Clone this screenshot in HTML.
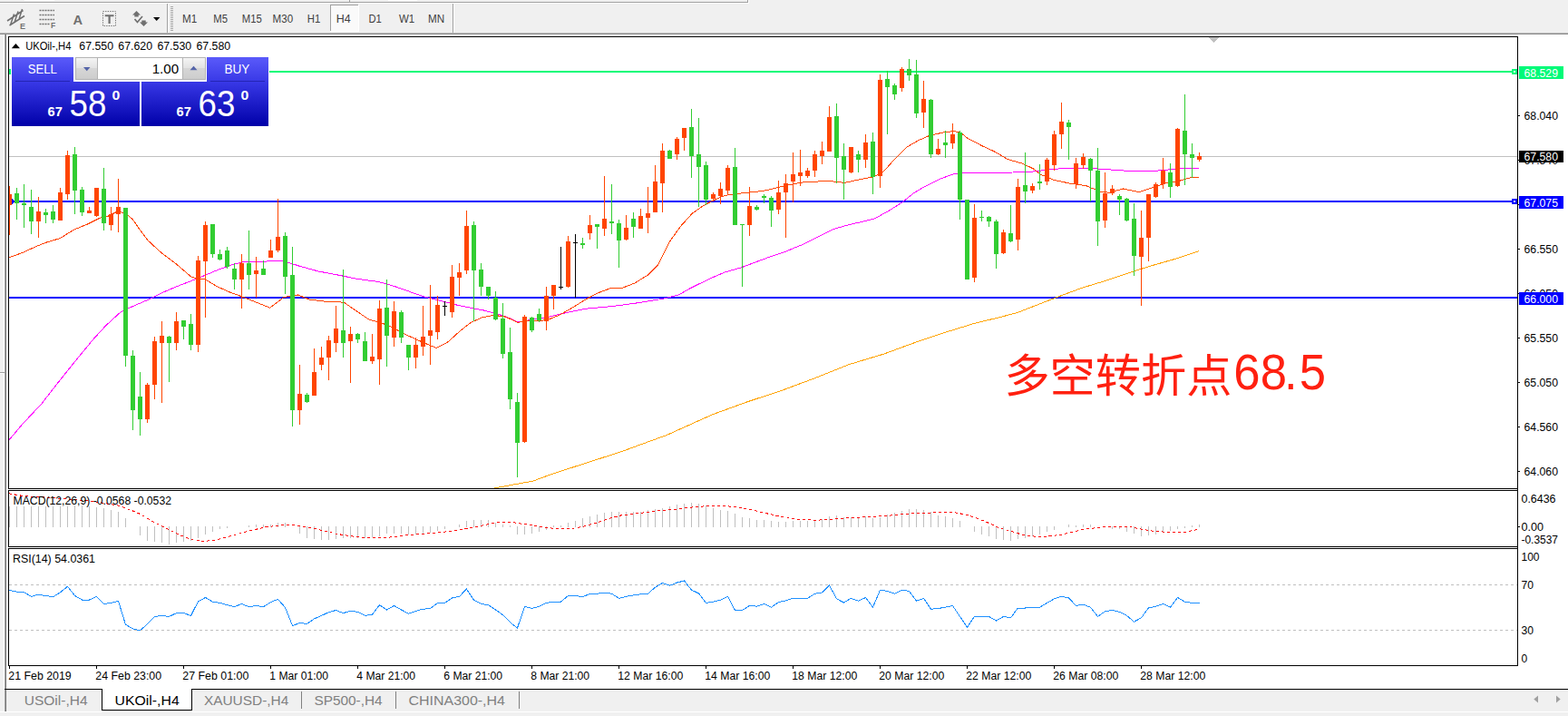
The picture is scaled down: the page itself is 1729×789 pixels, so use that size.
<!DOCTYPE html>
<html><head><meta charset="utf-8"><title>UKOil-,H4</title>
<style>
html,body{margin:0;padding:0;background:#fff}
body{width:1729px;height:789px;overflow:hidden;position:relative}
svg{position:absolute;left:0;top:0;display:block}
text{font-family:"Liberation Sans",sans-serif;white-space:pre}
</style></head><body>
<svg width="1729" height="789" viewBox="0 0 1729 789">
<rect x="0" y="0" width="1729" height="789" fill="#fff"/>
<g shape-rendering="crispEdges">
<rect x="0" y="0" width="1729" height="36" fill="#f0f0f0"/>
<rect x="0" y="2" width="825" height="1" fill="#a0a0a0"/>
<rect x="0" y="3" width="826" height="1" fill="#fff"/>
<rect x="824" y="0" width="1" height="3" fill="#a0a0a0"/>
<rect x="825" y="0" width="1" height="4" fill="#fff"/>
<rect x="27" y="0" width="33" height="1" fill="#fff"/>
<rect x="385" y="0" width="1" height="2" fill="#a0a0a0"/>
<rect x="428" y="0" width="32" height="1" fill="#fff"/>
<rect x="0" y="36" width="1729" height="1" fill="#b8b8b8"/>
<rect x="0" y="37" width="1729" height="1" fill="#8c8c8c"/>
<rect x="0" y="38" width="4" height="746" fill="#f0f0f0"/>
<rect x="5" y="38" width="1" height="746" fill="#a0a0a0"/>
<rect x="6" y="38" width="1" height="746" fill="#787878"/>
<rect x="0" y="410" width="5" height="1" fill="#a0a0a0"/>
<rect x="0" y="411" width="5" height="1" fill="#fff"/>
<rect x="184" y="4" width="1" height="32" fill="#a0a0a0"/>
<rect x="185" y="4" width="1" height="32" fill="#fff"/>
<rect x="499" y="4" width="1" height="32" fill="#a0a0a0"/>
<rect x="500" y="4" width="1" height="32" fill="#fff"/>
<rect x="188" y="7" width="3" height="1" fill="#a8a8a8"/>
<rect x="188" y="9" width="3" height="1" fill="#a8a8a8"/>
<rect x="188" y="11" width="3" height="1" fill="#a8a8a8"/>
<rect x="188" y="13" width="3" height="1" fill="#a8a8a8"/>
<rect x="188" y="15" width="3" height="1" fill="#a8a8a8"/>
<rect x="188" y="17" width="3" height="1" fill="#a8a8a8"/>
<rect x="188" y="19" width="3" height="1" fill="#a8a8a8"/>
<rect x="188" y="21" width="3" height="1" fill="#a8a8a8"/>
<rect x="188" y="23" width="3" height="1" fill="#a8a8a8"/>
<rect x="188" y="25" width="3" height="1" fill="#a8a8a8"/>
<rect x="188" y="27" width="3" height="1" fill="#a8a8a8"/>
<rect x="188" y="29" width="3" height="1" fill="#a8a8a8"/>
<rect x="188" y="31" width="3" height="1" fill="#a8a8a8"/>
<rect x="188" y="33" width="3" height="1" fill="#a8a8a8"/>
<rect x="364" y="5" width="32" height="30" fill="#fafafa"/>
<rect x="364" y="5" width="32" height="1" fill="#a0a0a0"/>
<rect x="364" y="5" width="1" height="30" fill="#a0a0a0"/>
<rect x="395" y="5" width="1" height="30" fill="#fff"/>
<rect x="364" y="34" width="32" height="1" fill="#fff"/>
<rect x="0" y="760" width="1729" height="24" fill="#f0f0f0"/>
<rect x="5" y="759" width="1724" height="1" fill="#000"/>
<rect x="0" y="784" width="1729" height="1" fill="#fff"/>
<rect x="0" y="785" width="1729" height="4" fill="#f0f0f0"/>
<rect x="5" y="760" width="1" height="24" fill="#a0a0a0"/>
<rect x="6" y="760" width="1" height="24" fill="#787878"/>
<rect x="112" y="759" width="100" height="24" fill="#000"/>
<rect x="113" y="759" width="98" height="23" fill="#fff"/>
<rect x="332" y="762" width="1" height="19" fill="#808080"/>
<rect x="436" y="762" width="1" height="19" fill="#808080"/>
<rect x="572" y="762" width="1" height="19" fill="#808080"/>
</g>
<path d="M1696 766.5v8l-4.7-4z" fill="#a0a0a0"/><path d="M1716 766.5v8l4.7-4z" fill="#a0a0a0"/>
<text x="201" y="25.2" font-size="12" fill="#404040" textLength="16.2" lengthAdjust="spacingAndGlyphs">M1</text>
<text x="235.3" y="25.2" font-size="12" fill="#404040" textLength="15.7" lengthAdjust="spacingAndGlyphs">M5</text>
<text x="266.8" y="25.2" font-size="12" fill="#404040" textLength="22" lengthAdjust="spacingAndGlyphs">M15</text>
<text x="300.6" y="25.2" font-size="12" fill="#404040" textLength="22.5" lengthAdjust="spacingAndGlyphs">M30</text>
<text x="338.8" y="25.2" font-size="12" fill="#404040" textLength="14.5" lengthAdjust="spacingAndGlyphs">H1</text>
<text x="370.8" y="25.2" font-size="12" fill="#404040" textLength="15.9" lengthAdjust="spacingAndGlyphs">H4</text>
<text x="406.5" y="25.2" font-size="12" fill="#404040" textLength="14.3" lengthAdjust="spacingAndGlyphs">D1</text>
<text x="439.9" y="25.2" font-size="12" fill="#404040" textLength="17.2" lengthAdjust="spacingAndGlyphs">W1</text>
<text x="472" y="25.2" font-size="12" fill="#404040" textLength="18.1" lengthAdjust="spacingAndGlyphs">MN</text>
<text x="26.8" y="777" font-size="14.5" fill="#808080" textLength="69.7" lengthAdjust="spacingAndGlyphs">USOil-,H4</text>
<text x="126.6" y="777" font-size="14.5" fill="#000" textLength="71.1" lengthAdjust="spacingAndGlyphs">UKOil-,H4</text>
<text x="224.9" y="777" font-size="14.5" fill="#808080" textLength="93.4" lengthAdjust="spacingAndGlyphs">XAUUSD-,H4</text>
<text x="346.4" y="777" font-size="14.5" fill="#808080" textLength="75.2" lengthAdjust="spacingAndGlyphs">SP500-,H4</text>
<text x="450.5" y="777" font-size="14.5" fill="#808080" textLength="106.4" lengthAdjust="spacingAndGlyphs">CHINA300-,H4</text>
<g stroke="#707070" stroke-width="1.5" fill="none"><path d="M8 23L25.5 11.5M10.5 28L27 17.5M15.5 15.5L11.5 27.5M20 12.5L16 24.5M24.5 10L21 21"/></g>
<text x="22" y="31.8" font-size="9" fill="#707070" font-weight="bold">E</text>
<path d="M43.5 11.5H60M43.5 16.5H60M43.5 21.5H60M43.5 26.5H55" stroke="#707070" stroke-width="1.4" stroke-dasharray="2 1" fill="none"/>
<text x="56" y="31.3" font-size="8.5" fill="#707070" font-weight="bold">F</text>
<text x="80.6" y="26.6" font-size="15.5" fill="#707070" textLength="10.6" lengthAdjust="spacingAndGlyphs" font-weight="bold">A</text>
<rect x="113.5" y="12.5" width="14" height="16" fill="none" stroke="#707070" stroke-width="1" stroke-dasharray="1.3 1.3"/>
<path d="M115.7 16.2h9.8v2h-3.8v7.8h-2.2v-7.8h-3.8z" fill="#707070"/>
<path d="M150.5 12l4.5 4.5h-2.3v2h-4.4v-2h-2.3zM158.5 29l-4.5-4.5h2.3v-2h4.4v2h2.3z" fill="#707070"/><path d="M148.5 21l3 3.5 5.5-6.5" stroke="#707070" stroke-width="1.7" fill="none"/>
<path d="M169 19h7.4l-3.7 4z" fill="#000"/>
<g shape-rendering="crispEdges">
<rect x="9" y="40" width="1665" height="1" fill="#000"/>
<rect x="9" y="538" width="1665" height="1" fill="#000"/>
<rect x="9" y="40" width="1" height="499" fill="#000"/>
<rect x="1673" y="40" width="1" height="499" fill="#000"/>
<rect x="9" y="540" width="1665" height="1" fill="#000"/>
<rect x="9" y="602" width="1665" height="1" fill="#000"/>
<rect x="9" y="540" width="1" height="63" fill="#000"/>
<rect x="1673" y="540" width="1" height="63" fill="#000"/>
<rect x="9" y="604" width="1665" height="1" fill="#000"/>
<rect x="9" y="733" width="1665" height="1" fill="#000"/>
<rect x="9" y="604" width="1" height="130" fill="#000"/>
<rect x="1673" y="604" width="1" height="130" fill="#000"/>
<rect x="1673" y="538" width="1" height="66" fill="#000"/>
<rect x="10" y="172" width="1663" height="1" fill="#c0c0c0"/>
<path d="M10 644.5H1673M10 694.5H1673" stroke="#c0c0c0" stroke-width="1" stroke-dasharray="3 3" fill="none"/>
<path d="M18.5 558V581M26.5 558V581M34.5 558V581M42.5 558V581M50.5 558V581M58.5 558V581M66.5 558V581M74.5 558V581M82.5 557V581M90.5 557V581M98.5 558V581M106.5 559V581M114.5 560V581M122.5 562V581M130.5 564V581M138.5 571V581M154.5 580V590M162.5 580V596M170.5 580V597M178.5 580V598M186.5 580V600M194.5 580V598M202.5 580V597M210.5 580V596M218.5 580V593M226.5 580V589M234.5 580V586M242.5 580V583M250.5 580V582M274.5 579V581M282.5 578V581M290.5 578V581M298.5 578V581M306.5 576V581M314.5 576V581M330.5 580V588M338.5 580V593M346.5 580V594M354.5 580V595M362.5 580V595M370.5 580V594M378.5 580V593M386.5 580V593M394.5 580V593M402.5 580V593M410.5 580V592M418.5 580V591M426.5 580V588M434.5 580V588M442.5 580V588M450.5 580V589M458.5 580V589M466.5 580V588M474.5 580V587M482.5 580V585M490.5 580V583M506.5 578V581M514.5 574V581M522.5 573V581M530.5 573V581M538.5 573V581M546.5 576V581M554.5 578V581M562.5 579V581M570.5 580V589M578.5 580V589M586.5 580V588M594.5 580V586M602.5 580V584M610.5 579V581M618.5 579V581M626.5 576V581M634.5 574V581M642.5 571V581M650.5 569V581M658.5 567V581M666.5 565V581M674.5 564V581M682.5 564V581M690.5 564V581M698.5 564V581M706.5 564V581M714.5 562V581M722.5 561V581M730.5 560V581M738.5 558V581M746.5 556V581M754.5 555V581M762.5 554V581M770.5 555V581M778.5 557V581M786.5 560V581M794.5 562V581M802.5 563V581M810.5 566V581M818.5 570V581M826.5 571V581M834.5 573V581M842.5 573V581M850.5 574V581M858.5 575V581M866.5 575V581M874.5 574V581M882.5 574V581M890.5 574V581M898.5 573V581M906.5 572V581M914.5 569V581M922.5 568V581M930.5 570V581M938.5 570V581M946.5 570V581M954.5 569V581M962.5 571V581M970.5 570V581M978.5 567V581M986.5 565V581M994.5 563V581M1002.5 561V581M1010.5 561V581M1018.5 562V581M1026.5 564V581M1034.5 568V581M1042.5 569V581M1050.5 571V581M1058.5 574V581M1074.5 580V586M1082.5 580V589M1090.5 580V591M1098.5 580V594M1106.5 580V595M1114.5 580V596M1122.5 580V594M1130.5 580V593M1138.5 580V591M1146.5 580V589M1154.5 580V586M1162.5 580V584M1178.5 578V581M1186.5 579V581M1194.5 578V581M1202.5 578V581M1226.5 580V583M1234.5 580V583M1242.5 580V586M1250.5 580V588M1258.5 580V591M1266.5 580V590M1274.5 580V589M1282.5 580V586M1290.5 580V585M1298.5 580V583M1306.5 580V582M1314.5 579V581M1322.5 578V581M10.5 558V581" stroke="#c0c0c0" stroke-width="1" fill="none"/>
</g>
<g shape-rendering="crispEdges">
<rect x="10" y="78" width="1663" height="2" fill="#00fa78"/>
<rect x="10" y="221" width="1663" height="2" fill="#0000ff"/>
<rect x="10" y="327" width="1663" height="2" fill="#0000ff"/>
<rect x="10" y="76" width="2" height="6" fill="#00fa78"/>
<rect x="1667" y="76" width="6" height="6" fill="#00fa78"/>
<rect x="1669" y="78" width="2" height="2" fill="#fff"/>
<path d="M10 219h4l1.5 3l-1.5 3h-4z" fill="#0000ff"/>
<rect x="1667" y="219" width="6" height="6" fill="#0000ff"/>
<rect x="1669" y="221" width="2" height="2" fill="#fff"/>
<path d="M1333 41h11l-5.5 6z" fill="#c0c0c0"/>
<rect x="1674" y="127" width="2" height="1" fill="#000"/>
<rect x="1674" y="176" width="2" height="1" fill="#000"/>
<rect x="1674" y="225" width="2" height="1" fill="#000"/>
<rect x="1674" y="274" width="2" height="1" fill="#000"/>
<rect x="1674" y="323" width="2" height="1" fill="#000"/>
<rect x="1674" y="372" width="2" height="1" fill="#000"/>
<rect x="1674" y="421" width="2" height="1" fill="#000"/>
<rect x="1674" y="470" width="2" height="1" fill="#000"/>
<rect x="1674" y="519" width="2" height="1" fill="#000"/>
<rect x="1674" y="580" width="2" height="1" fill="#000"/>
<text x="1680.5" y="181" font-size="12" fill="#000" textLength="37.5" lengthAdjust="spacingAndGlyphs">67.540</text>
<text x="1680.5" y="328" font-size="12" fill="#000" textLength="37.5" lengthAdjust="spacingAndGlyphs">66.050</text>
<rect x="1675" y="73" width="49" height="14" fill="#00fa78"/>
<rect x="1675" y="166" width="49" height="13" fill="#000"/>
<rect x="1675" y="216" width="49" height="14" fill="#0000ff"/>
<rect x="1675" y="322" width="49" height="14" fill="#0000ff"/>
<rect x="10" y="734" width="1" height="3" fill="#000"/>
<rect x="106" y="734" width="1" height="3" fill="#000"/>
<rect x="202" y="734" width="1" height="3" fill="#000"/>
<rect x="298" y="734" width="1" height="3" fill="#000"/>
<rect x="394" y="734" width="1" height="3" fill="#000"/>
<rect x="490" y="734" width="1" height="3" fill="#000"/>
<rect x="586" y="734" width="1" height="3" fill="#000"/>
<rect x="682" y="734" width="1" height="3" fill="#000"/>
<rect x="778" y="734" width="1" height="3" fill="#000"/>
<rect x="874" y="734" width="1" height="3" fill="#000"/>
<rect x="970" y="734" width="1" height="3" fill="#000"/>
<rect x="1066" y="734" width="1" height="3" fill="#000"/>
<rect x="1162" y="734" width="1" height="3" fill="#000"/>
<rect x="1258" y="734" width="1" height="3" fill="#000"/>
</g>
<polyline points="545.0,538.0 588.0,530.0 608.0,522.6 646.3,510.2 684.5,497.9 735.3,479.4 786.3,456.5 824.4,442.7 862.0,430.3 898.2,416.8 936.3,401.6 974.5,390.1 1012.7,376.1 1043.2,366.0 1076.3,355.8 1101.0,350.0 1122.1,344.4 1166.0,327.3 1192.7,317.4 1217.0,310.0 1248.7,299.4 1269.0,293.0 1297.0,285.0 1322.0,276.7" fill="none" stroke="#ffa500" stroke-width="1" shape-rendering="crispEdges"/>
<polyline points="10.2,484.5 25.4,466.7 45.8,445.0 63.6,422.1 84.0,396.7 101.8,375.1 117.0,358.5 132.3,344.5 145.0,338.2 162.8,330.5 178.1,322.9 195.9,315.3 216.3,307.5 239.2,297.8 254.5,292.2 269.7,288.3 292.6,288.1 309.2,287.1 320.6,290.1 330.8,293.4 351.1,299.0 371.5,302.8 394.4,307.4 417.3,310.5 435.0,315.5 465.6,326.3 506.3,336.7 534.0,342.1 557.2,348.6 571.2,354.9 582.7,352.9 603.0,349.8 623.4,344.8 646.3,340.2 674.3,337.6 699.7,334.3 730.3,329.4 748.1,325.1 760.8,317.9 781.1,307.8 799.0,300.1 816.8,295.0 837.1,287.4 852.4,281.8 866.0,277.3 885.4,269.3 918.5,252.7 936.3,247.6 949.0,244.7 964.3,240.9 979.5,232.7 994.8,223.0 1007.5,212.8 1020.3,205.2 1035.5,197.6 1050.8,192.0 1061.0,190.6 1076.2,190.7 1096.6,191.0 1116.6,190.0 1139.5,189.0 1162.1,186.3 1182.5,185.1 1205.4,185.6 1230.8,187.4 1251.2,188.9 1269.0,188.7 1289.4,186.9 1304.6,185.6 1322.0,185.1" fill="none" stroke="#ff00ff" stroke-width="1" shape-rendering="crispEdges"/>
<polyline points="10.2,283.8 25.4,278.2 38.2,272.3 50.9,267.2 66.2,262.6 81.4,253.2 96.7,246.9 109.4,240.5 119.6,238.0 129.8,232.9 138.7,235.4 146.3,241.8 155.2,254.5 162.8,264.7 178.1,278.7 193.4,290.1 211.2,305.4 218.8,307.2 226.5,307.9 239.2,315.6 254.5,322.4 267.2,327.0 279.9,332.1 297.7,339.2 313.0,327.5 328.2,324.9 341.0,330.0 361.3,332.6 379.1,333.1 391.9,342.0 407.1,352.2 419.8,355.5 432.0,360.5 445.3,367.7 463.1,375.8 480.9,383.4 493.6,377.1 506.3,365.6 519.1,355.4 531.8,349.8 544.5,347.3 557.2,349.1 571.2,355.4 582.7,353.4 603.0,352.9 618.3,346.5 633.6,337.6 646.3,329.7 659.0,323.0 674.3,317.2 684.5,317.9 699.7,312.1 715.0,302.7 725.2,292.5 737.9,267.0 750.6,249.2 763.3,235.2 776.1,226.3 786.3,221.0 799.0,215.4 811.7,213.6 827.0,212.0 842.2,210.3 867.6,204.2 885.4,200.9 913.4,199.4 931.2,201.4 949.0,197.6 964.3,194.5 974.5,188.7 987.2,174.7 999.9,162.0 1012.6,154.8 1025.3,149.2 1040.6,145.9 1050.8,144.7 1058.4,145.4 1067.0,152.5 1083.9,161.2 1096.6,167.0 1111.5,175.7 1128.0,180.4 1139.8,186.1 1146.9,192.0 1162.1,198.3 1179.9,202.2 1197.8,204.7 1213.0,211.1 1223.2,212.3 1238.5,208.0 1256.3,211.6 1271.6,206.5 1284.3,202.2 1299.5,199.6 1312.3,195.8 1322.0,195.3" fill="none" stroke="#ff4500" stroke-width="1" shape-rendering="crispEdges"/>
<polyline points="10.0,543.9 25.4,546.5 63.6,549.0 101.8,552.3 132.3,557.4 152.7,565.5 167.9,574.4 183.2,582.0 198.5,589.7 211.2,594.8 223.9,596.6 239.2,594.8 254.5,590.5 274.8,585.1 292.6,580.8 310.4,578.8 325.7,578.8 338.4,580.8 356.2,584.6 371.5,588.4 391.9,591.5 412.2,593.0 427.5,592.3 440.0,590.7 455.4,589.2 480.9,587.2 506.3,584.1 526.7,580.3 544.5,576.2 562.3,575.2 582.7,578.3 603.0,581.6 618.3,582.8 633.6,582.0 646.3,579.5 659.0,575.7 671.7,571.4 684.5,568.0 704.8,565.5 725.2,563.0 745.5,561.2 760.8,559.2 776.1,557.9 791.3,557.4 811.7,558.4 827.0,561.2 842.2,565.0 857.5,568.6 868.0,570.0 880.4,572.4 900.7,573.2 916.0,572.4 936.3,570.6 961.8,569.4 982.1,568.0 997.4,566.3 1012.7,565.5 1033.0,564.8 1053.4,564.8 1063.6,566.8 1076.3,570.6 1089.0,575.7 1101.7,582.0 1114.5,585.1 1127.2,589.2 1139.9,591.0 1155.2,591.0 1170.4,589.2 1183.2,585.9 1195.9,583.3 1211.1,581.3 1226.4,580.3 1244.2,580.3 1257.0,582.8 1272.2,585.4 1287.5,586.4 1308.0,586.4 1315.0,584.5 1322.0,583.3" fill="none" stroke="#ff0000" stroke-width="1" stroke-dasharray="3 3" shape-rendering="crispEdges"/>
<polyline points="10.5,650.4 18.5,652.2 26.5,652.7 34.5,657.3 42.5,655.2 50.5,656.5 58.5,657.8 66.5,652.7 74.5,646.3 82.5,656.5 90.5,661.0 98.5,661.0 106.5,657.3 114.5,665.4 122.5,664.4 130.5,662.3 138.5,688.3 146.5,692.9 154.5,694.7 162.5,687.8 170.5,679.4 178.5,678.4 186.5,679.4 194.5,675.6 202.5,675.6 210.5,678.4 218.5,662.8 226.5,658.5 234.5,663.1 242.5,664.4 250.5,666.7 258.5,668.7 266.5,665.4 274.5,668.7 282.5,667.4 290.5,668.7 298.5,663.6 306.5,660.3 314.5,669.5 322.5,689.6 330.5,686.5 338.5,687.5 346.5,681.9 354.5,678.4 362.5,674.6 370.5,672.5 378.5,675.6 386.5,673.3 394.5,674.3 402.5,678.4 410.5,677.1 418.5,666.7 426.5,672.0 434.5,667.4 442.5,672.0 450.5,676.3 458.5,673.3 466.5,671.2 474.5,670.5 482.5,664.4 490.5,664.4 498.5,659.0 506.5,657.3 514.5,649.1 522.5,661.1 530.5,665.4 538.5,666.7 546.5,672.0 554.5,677.6 562.5,685.8 570.5,692.1 578.5,668.2 586.5,670.5 594.5,668.2 602.5,664.4 610.5,663.1 618.5,663.1 626.5,656.5 634.5,656.5 642.5,657.8 650.5,654.2 658.5,654.2 666.5,653.4 674.5,654.2 682.5,659.3 690.5,657.3 698.5,656.0 706.5,654.7 714.5,654.2 722.5,647.1 730.5,642.5 738.5,645.3 746.5,642.0 754.5,640.0 762.5,650.1 770.5,654.0 778.5,664.4 786.5,663.1 794.5,661.1 802.5,657.3 810.5,672.5 818.5,672.5 826.5,667.4 834.5,668.2 842.5,665.4 850.5,669.2 858.5,663.6 866.5,662.0 874.5,659.3 882.5,659.3 890.5,659.3 898.5,654.2 906.5,652.9 914.5,645.0 922.5,659.8 930.5,664.1 938.5,659.3 946.5,662.3 954.5,658.5 962.5,669.2 970.5,650.1 978.5,651.4 986.5,654.2 994.5,650.1 1002.5,651.4 1010.5,662.3 1018.5,659.3 1026.5,671.2 1034.5,670.5 1042.5,669.2 1050.5,667.4 1058.5,679.4 1066.5,691.1 1074.5,679.4 1082.5,679.4 1090.5,679.4 1098.5,684.0 1106.5,679.4 1114.5,680.7 1122.5,670.0 1130.5,670.0 1138.5,669.2 1146.5,669.2 1154.5,664.4 1162.5,659.8 1170.5,657.3 1178.5,659.0 1186.5,667.4 1194.5,666.2 1202.5,669.2 1210.5,679.4 1218.5,673.8 1226.5,672.5 1234.5,674.3 1242.5,678.4 1250.5,685.2 1258.5,680.7 1266.5,670.0 1274.5,668.2 1282.5,665.4 1290.5,669.2 1298.5,658.5 1306.5,663.1 1314.5,664.4 1322.5,664.4" fill="none" stroke="#1e90ff" stroke-width="1" shape-rendering="crispEdges"/>
<g shape-rendering="crispEdges">
<path d="M18 207h1V242h-1zM16 213h5V224h-5zM26 203h1V251h-1zM24 224h5V226h-5zM34 209h1V258h-1zM32 228h5V244h-5zM50 230h1V246h-1zM48 234h5V237h-5zM58 226h1V246h-1zM56 233h5V242h-5zM82 162h1V236h-1zM80 170h5V210h-5zM90 206h1V238h-1zM88 209h5V234h-5zM114 185h1V254h-1zM112 208h5V246h-5zM138 229h1V404h-1zM136 229h5V392h-5zM146 386h1V474h-1zM144 392h5V452h-5zM154 410h1V480h-1zM152 437h5V462h-5zM186 370h1V421h-1zM184 371h5V378h-5zM202 353h1V374h-1zM200 353h5V360h-5zM210 346h1V386h-1zM208 357h5V380h-5zM234 247h1V284h-1zM232 247h5V280h-5zM242 275h1V287h-1zM240 280h5V286h-5zM250 272h1V296h-1zM248 276h5V294h-5zM258 290h1V319h-1zM256 296h5V308h-5zM274 254h1V319h-1zM272 290h5V303h-5zM290 287h1V303h-1zM288 296h5V303h-5zM314 256h1V324h-1zM312 260h5V305h-5zM322 272h1V470h-1zM320 303h5V452h-5zM338 433h1V444h-1zM336 435h5V443h-5zM378 297h1V394h-1zM376 364h5V378h-5zM394 367h1V378h-1zM392 368h5V374h-5zM402 366h1V398h-1zM400 376h5V398h-5zM426 308h1V404h-1zM424 339h5V370h-5zM442 342h1V378h-1zM440 344h5V372h-5zM450 380h1V408h-1zM448 380h5V394h-5zM522 244h1V354h-1zM520 248h5V298h-5zM530 290h1V326h-1zM528 297h5V316h-5zM538 316h1V330h-1zM536 316h5V326h-5zM546 321h1V353h-1zM544 328h5V352h-5zM554 334h1V395h-1zM552 351h5V390h-5zM562 361h1V451h-1zM560 388h5V440h-5zM570 433h1V526h-1zM568 443h5V488h-5zM586 349h1V366h-1zM584 350h5V364h-5zM594 340h1V355h-1zM592 346h5V353h-5zM642 262h1V274h-1zM640 268h5V270h-5zM658 247h1V274h-1zM656 247h5V250h-5zM674 203h1V258h-1zM672 244h5V246h-5zM682 242h1V295h-1zM680 246h5V265h-5zM698 234h1V262h-1zM696 241h5V250h-5zM738 165h1V175h-1zM736 166h5V175h-5zM762 120h1V196h-1zM760 140h5V172h-5zM770 130h1V228h-1zM768 170h5V184h-5zM778 178h1V226h-1zM776 182h5V220h-5zM810 163h1V248h-1zM808 184h5V248h-5zM818 247h1V316h-1zM816 247h5V248h-5zM834 226h1V232h-1zM832 228h5V231h-5zM842 214h1V224h-1zM840 216h5V218h-5zM850 216h1V250h-1zM848 218h5V232h-5zM922 114h1V202h-1zM920 128h5V174h-5zM930 158h1V220h-1zM928 172h5V187h-5zM946 166h1V190h-1zM944 170h5V176h-5zM962 146h1V214h-1zM960 156h5V195h-5zM978 78h1V148h-1zM976 87h5V96h-5zM986 92h1V110h-1zM984 94h5V104h-5zM1002 65h1V89h-1zM1000 76h5V83h-5zM1010 66h1V130h-1zM1008 82h5V125h-5zM1026 109h1V174h-1zM1024 110h5V170h-5zM1042 144h1V174h-1zM1040 157h5V160h-5zM1058 144h1V242h-1zM1056 146h5V220h-5zM1066 220h1V308h-1zM1064 220h5V308h-5zM1082 232h1V244h-1zM1080 239h5V240h-5zM1090 238h1V250h-1zM1088 239h5V244h-5zM1098 242h1V296h-1zM1096 244h5V280h-5zM1114 226h1V267h-1zM1112 257h5V266h-5zM1130 168h1V224h-1zM1128 204h5V211h-5zM1146 181h1V209h-1zM1144 200h5V202h-5zM1178 132h1V176h-1zM1176 135h5V140h-5zM1202 174h1V222h-1zM1200 175h5V188h-5zM1210 163h1V271h-1zM1208 188h5V244h-5zM1234 214h1V237h-1zM1232 216h5V220h-5zM1242 218h1V244h-1zM1240 219h5V243h-5zM1250 224h1V304h-1zM1248 241h5V282h-5zM1290 180h1V218h-1zM1288 190h5V206h-5zM1306 104h1V204h-1zM1304 144h5V170h-5zM1314 158h1V196h-1zM1312 170h5V174h-5z" fill="#32cd32"/>
<path d="M10 205h1V259h-1zM10 214h3V226h-3zM42 217h1V262h-1zM40 233h5V244h-5zM66 207h1V243h-1zM64 212h5V243h-5zM74 166h1V220h-1zM72 171h5V214h-5zM98 228h1V235h-1zM96 232h5V235h-5zM106 207h1V239h-1zM104 207h5V238h-5zM122 228h1V254h-1zM120 236h5V248h-5zM130 197h1V256h-1zM128 228h5V236h-5zM162 422h1V466h-1zM160 424h5V462h-5zM170 371h1V440h-1zM168 376h5V424h-5zM178 354h1V444h-1zM176 370h5V378h-5zM194 344h1V386h-1zM192 354h5V378h-5zM218 282h1V388h-1zM216 287h5V380h-5zM226 244h1V350h-1zM224 248h5V288h-5zM266 280h1V340h-1zM264 290h5V308h-5zM282 283h1V328h-1zM280 298h5V302h-5zM298 264h1V284h-1zM296 276h5V284h-5zM306 219h1V278h-1zM304 261h5V276h-5zM330 402h1V468h-1zM328 434h5V452h-5zM346 384h1V436h-1zM344 410h5V436h-5zM354 382h1V408h-1zM352 394h5V402h-5zM362 370h1V419h-1zM360 375h5V394h-5zM370 337h1V388h-1zM368 362h5V378h-5zM386 360h1V422h-1zM384 368h5V376h-5zM410 368h1V401h-1zM408 393h5V398h-5zM418 331h1V424h-1zM416 340h5V396h-5zM434 332h1V382h-1zM432 343h5V372h-5zM458 372h1V406h-1zM456 380h5V394h-5zM466 337h1V392h-1zM464 371h5V382h-5zM474 314h1V402h-1zM472 364h5V370h-5zM482 326h1V374h-1zM480 336h5V366h-5zM498 292h1V350h-1zM496 305h5V344h-5zM506 290h1V326h-1zM504 300h5V306h-5zM514 232h1V302h-1zM512 249h5V298h-5zM578 347h1V488h-1zM576 349h5V487h-5zM602 316h1V364h-1zM600 326h5V354h-5zM610 314h1V341h-1zM608 314h5V326h-5zM626 260h1V317h-1zM624 266h5V316h-5zM650 237h1V264h-1zM648 248h5V257h-5zM666 194h1V260h-1zM664 241h5V252h-5zM690 237h1V265h-1zM688 251h5V264h-5zM706 230h1V252h-1zM704 238h5V252h-5zM714 206h1V257h-1zM712 235h5V240h-5zM722 182h1V234h-1zM720 200h5V234h-5zM730 158h1V234h-1zM728 166h5V202h-5zM746 151h1V176h-1zM744 153h5V170h-5zM754 141h1V166h-1zM752 141h5V152h-5zM786 212h1V222h-1zM784 214h5V219h-5zM794 201h1V225h-1zM792 208h5V216h-5zM802 182h1V214h-1zM800 185h5V210h-5zM826 206h1V260h-1zM824 227h5V248h-5zM858 199h1V236h-1zM856 212h5V231h-5zM866 192h1V262h-1zM864 202h5V212h-5zM874 168h1V223h-1zM872 192h5V200h-5zM882 165h1V205h-1zM880 190h5V194h-5zM890 185h1V196h-1zM888 188h5V194h-5zM898 166h1V195h-1zM896 170h5V188h-5zM906 156h1V181h-1zM904 166h5V172h-5zM914 117h1V167h-1zM912 129h5V167h-5zM938 162h1V191h-1zM936 162h5V190h-5zM954 148h1V185h-1zM952 157h5V176h-5zM970 82h1V207h-1zM968 88h5V194h-5zM994 74h1V101h-1zM992 76h5V97h-5zM1018 89h1V141h-1zM1016 109h5V124h-5zM1034 153h1V171h-1zM1032 164h5V170h-5zM1050 136h1V164h-1zM1048 148h5V158h-5zM1074 225h1V311h-1zM1072 240h5V306h-5zM1106 253h1V280h-1zM1104 256h5V279h-5zM1122 197h1V276h-1zM1120 206h5V264h-5zM1138 202h1V213h-1zM1136 205h5V210h-5zM1154 174h1V204h-1zM1152 176h5V200h-5zM1162 144h1V188h-1zM1160 148h5V182h-5zM1170 113h1V164h-1zM1168 134h5V148h-5zM1186 174h1V208h-1zM1184 180h5V203h-5zM1194 169h1V186h-1zM1192 173h5V182h-5zM1218 190h1V251h-1zM1216 213h5V243h-5zM1226 204h1V215h-1zM1224 208h5V213h-5zM1258 232h1V337h-1zM1256 262h5V283h-5zM1266 214h1V288h-1zM1264 214h5V262h-5zM1274 201h1V218h-1zM1272 203h5V217h-5zM1282 174h1V208h-1zM1280 188h5V203h-5zM1298 141h1V206h-1zM1296 142h5V205h-5zM1322 168h1V178h-1zM1320 172h5V176h-5z" fill="#ff4500"/>
<path d="M490 332h1V348h-1zM488 337h5V338h-5zM618 272h1V319h-1zM616 316h5V317h-5zM634 258h1V328h-1zM632 267h5V268h-5z" fill="#000"/>
</g>
<text x="1680.5" y="132" font-size="12" fill="#000" textLength="37.5" lengthAdjust="spacingAndGlyphs">68.040</text>
<text x="1680.5" y="279" font-size="12" fill="#000" textLength="37.5" lengthAdjust="spacingAndGlyphs">66.550</text>
<text x="1680.5" y="377" font-size="12" fill="#000" textLength="37.5" lengthAdjust="spacingAndGlyphs">65.550</text>
<text x="1680.5" y="426" font-size="12" fill="#000" textLength="37.5" lengthAdjust="spacingAndGlyphs">65.050</text>
<text x="1680.5" y="475" font-size="12" fill="#000" textLength="37.5" lengthAdjust="spacingAndGlyphs">64.560</text>
<text x="1680.5" y="524" font-size="12" fill="#000" textLength="37.5" lengthAdjust="spacingAndGlyphs">64.060</text>
<text x="1680.5" y="84.5" font-size="12" fill="#fff" textLength="37.5" lengthAdjust="spacingAndGlyphs">68.529</text>
<text x="1680.5" y="177" font-size="12" fill="#fff" textLength="37.5" lengthAdjust="spacingAndGlyphs">67.580</text>
<text x="1680.5" y="227.5" font-size="12" fill="#fff" textLength="37.5" lengthAdjust="spacingAndGlyphs">67.075</text>
<text x="1680.5" y="333.5" font-size="12" fill="#fff" textLength="37.5" lengthAdjust="spacingAndGlyphs">66.000</text>
<text x="1677.5" y="553.5" font-size="12" fill="#000" textLength="38" lengthAdjust="spacingAndGlyphs">0.6436</text>
<text x="1677.5" y="584.5" font-size="12" fill="#000" textLength="24.5" lengthAdjust="spacingAndGlyphs">0.00</text>
<text x="1677.5" y="598.5" font-size="12" fill="#000" textLength="40.5" lengthAdjust="spacingAndGlyphs">-0.3537</text>
<text x="1677.5" y="618" font-size="12" fill="#000" textLength="20" lengthAdjust="spacingAndGlyphs">100</text>
<text x="1677.5" y="649" font-size="12" fill="#000" textLength="13.5" lengthAdjust="spacingAndGlyphs">70</text>
<text x="1677.5" y="699" font-size="12" fill="#000" textLength="13.5" lengthAdjust="spacingAndGlyphs">30</text>
<text x="1677.5" y="730" font-size="12" fill="#000">0</text>
<text x="28.2" y="54.5" font-size="12" fill="#000" textLength="50.2" lengthAdjust="spacingAndGlyphs">UKOil-,H4</text>
<text x="87.3" y="54.5" font-size="12" fill="#000" textLength="37.7" lengthAdjust="spacingAndGlyphs">67.550</text>
<text x="130.35" y="54.5" font-size="12" fill="#000" textLength="37.7" lengthAdjust="spacingAndGlyphs">67.620</text>
<text x="173.4" y="54.5" font-size="12" fill="#000" textLength="37.7" lengthAdjust="spacingAndGlyphs">67.530</text>
<text x="216.45" y="54.5" font-size="12" fill="#000" textLength="37.7" lengthAdjust="spacingAndGlyphs">67.580</text>
<path d="M12.8 53.2h9.2l-4.6-5.2z" fill="#000"/>
<text x="14.5" y="556" font-size="12" fill="#000" textLength="174.5" lengthAdjust="spacingAndGlyphs">MACD(12,26,9) -0.0568 -0.0532</text>
<text x="14" y="620" font-size="12" fill="#000" textLength="91" lengthAdjust="spacingAndGlyphs">RSI(14) 54.0361</text>
<text x="9.3" y="749" font-size="12" fill="#000" textLength="69.4" lengthAdjust="spacingAndGlyphs">21 Feb 2019</text>
<text x="105.3" y="749" font-size="12" fill="#000" textLength="72.8" lengthAdjust="spacingAndGlyphs">24 Feb 23:00</text>
<text x="201.3" y="749" font-size="12" fill="#000" textLength="73" lengthAdjust="spacingAndGlyphs">27 Feb 01:00</text>
<text x="297.3" y="749" font-size="12" fill="#000" textLength="64.7" lengthAdjust="spacingAndGlyphs">1 Mar 01:00</text>
<text x="393.3" y="749" font-size="12" fill="#000" textLength="64.8" lengthAdjust="spacingAndGlyphs">4 Mar 21:00</text>
<text x="489.3" y="749" font-size="12" fill="#000" textLength="64.8" lengthAdjust="spacingAndGlyphs">6 Mar 21:00</text>
<text x="585.3" y="749" font-size="12" fill="#000" textLength="64.8" lengthAdjust="spacingAndGlyphs">8 Mar 21:00</text>
<text x="681.3" y="749" font-size="12" fill="#000" textLength="72" lengthAdjust="spacingAndGlyphs">12 Mar 16:00</text>
<text x="777.3" y="749" font-size="12" fill="#000" textLength="72" lengthAdjust="spacingAndGlyphs">14 Mar 16:00</text>
<text x="873.3" y="749" font-size="12" fill="#000" textLength="72" lengthAdjust="spacingAndGlyphs">18 Mar 12:00</text>
<text x="969.3" y="749" font-size="12" fill="#000" textLength="72" lengthAdjust="spacingAndGlyphs">20 Mar 12:00</text>
<text x="1065.3" y="749" font-size="12" fill="#000" textLength="72" lengthAdjust="spacingAndGlyphs">22 Mar 12:00</text>
<text x="1161.3" y="749" font-size="12" fill="#000" textLength="72" lengthAdjust="spacingAndGlyphs">26 Mar 08:00</text>
<text x="1257.3" y="749" font-size="12" fill="#000" textLength="72" lengthAdjust="spacingAndGlyphs">28 Mar 12:00</text>
<text x="1107.4" y="432.3" font-size="50.2" fill="#ff2010" textLength="251" lengthAdjust="spacingAndGlyphs" style="font-family:'Liberation Sans','Noto Sans CJK SC',sans-serif">多空转折点</text>
<text transform="translate(1360.2 429.2) scale(0.94 1)" x="0 31.4 59.5 77.1" y="0" font-size="56" fill="#ff2010">68.5</text>
<defs>
<linearGradient id="gb" x1="0" y1="63" x2="0" y2="139" gradientUnits="userSpaceOnUse"><stop offset="0" stop-color="#5a5afa"/><stop offset="0.36" stop-color="#3838e6"/><stop offset="1" stop-color="#0000a8"/></linearGradient>
<linearGradient id="gg" x1="0" y1="0" x2="0" y2="1"><stop offset="0" stop-color="#f4f4f4"/><stop offset="0.5" stop-color="#e2e2e2"/><stop offset="0.5" stop-color="#d6d6d6"/><stop offset="1" stop-color="#cdcdcd"/></linearGradient>
</defs>
<g shape-rendering="crispEdges">
<rect x="12" y="62" width="285" height="78" fill="#fff"/>
<rect x="13" y="63" width="68" height="27" fill="url(#gb)"/>
<rect x="228" y="63" width="68" height="27" fill="url(#gb)"/>
<rect x="13" y="90" width="141" height="49" fill="url(#gb)"/>
<rect x="156" y="90" width="140" height="49" fill="url(#gb)"/>
<rect x="17" y="89" width="60" height="1" fill="#2424b4"/>
<rect x="232" y="89" width="60" height="1" fill="#2424b4"/>
<rect x="83" y="63" width="144" height="25" fill="#b4b4b4"/>
<rect x="84" y="64" width="142" height="23" fill="#fff"/>
<rect x="84" y="64" width="23" height="23" fill="url(#gg)"/>
<rect x="107" y="64" width="1" height="23" fill="#b4b4b4"/>
<rect x="202" y="64" width="24" height="23" fill="url(#gg)"/>
<rect x="201" y="64" width="1" height="23" fill="#b4b4b4"/>
</g>
<path d="M92 74h7.5l-3.75 4.2z" fill="#5464a8"/>
<path d="M209.5 77.3h8l-4-4.5z" fill="#5464a8"/>
<text x="30.7" y="81.4" font-size="14" fill="#fff" textLength="32" lengthAdjust="spacingAndGlyphs">SELL</text>
<text x="247.4" y="81.4" font-size="14" fill="#fff" textLength="27.8" lengthAdjust="spacingAndGlyphs">BUY</text>
<text x="167.7" y="80.8" font-size="15" fill="#000" textLength="29.5" lengthAdjust="spacingAndGlyphs">1.00</text>
<text x="52.5" y="127.7" font-size="14" fill="#fff" textLength="16.3" lengthAdjust="spacingAndGlyphs" font-weight="bold">67</text>
<text x="76.6" y="128" font-size="41" fill="#fff" textLength="40.8" lengthAdjust="spacingAndGlyphs">58</text>
<text x="123.5" y="109.6" font-size="14" fill="#fff" textLength="8.8" lengthAdjust="spacingAndGlyphs" font-weight="bold">0</text>
<text x="194.5" y="127.7" font-size="14" fill="#fff" textLength="16.3" lengthAdjust="spacingAndGlyphs" font-weight="bold">67</text>
<text x="218.6" y="128" font-size="41" fill="#fff" textLength="40.8" lengthAdjust="spacingAndGlyphs">63</text>
<text x="265.5" y="109.6" font-size="14" fill="#fff" textLength="8.8" lengthAdjust="spacingAndGlyphs" font-weight="bold">0</text>
</svg>
</body></html>
